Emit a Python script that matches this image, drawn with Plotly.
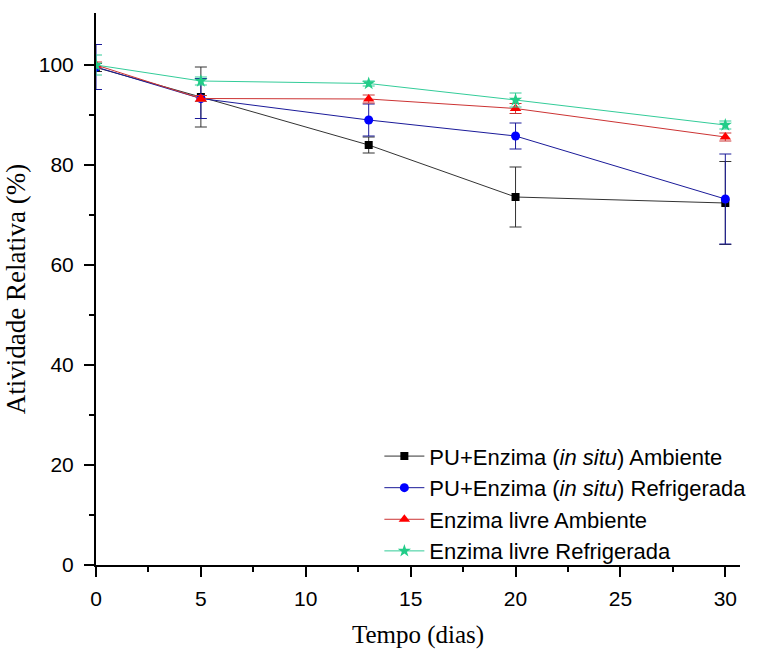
import plotly.graph_objects as go

tempo = [0, 5, 13, 20, 30]

pu_amb = [99.5, 93.6, 84.0, 73.6, 72.4]
pu_amb_err = [0.8, 6.0, 1.6, 6.0, 8.3]

pu_ref = [99.6, 93.3, 89.0, 85.8, 73.2]
pu_ref_err = [4.5, 4.0, 3.2, 2.6, 9.0]

livre_amb = [100.0, 93.3, 93.2, 91.3, 85.6]
livre_amb_err = [0.6, 0.6, 0.8, 1.0, 0.8]

livre_ref = [100.0, 96.8, 96.3, 93.0, 88.0]
livre_ref_err = [2.0, 0.8, 0.5, 1.4, 0.8]

names = [
    "PU+Enzima (<i>in situ</i>) Ambiente",
    "PU+Enzima (<i>in situ</i>) Refrigerada",
    "Enzima livre Ambiente",
    "Enzima livre Refrigerada",
]

series = [
    (pu_amb, pu_amb_err, "#000000", "#333333", "square", 8),
    (pu_ref, pu_ref_err, "#0000ff", "#1a1a99", "circle", 9),
    (livre_amb, livre_amb_err, "#ff0000", "#cc3333", "triangle-up", 10),
    (livre_ref, livre_ref_err, "#22cc88", "#33cc99", "star", 10),
]

fig = go.Figure()
for (vals, errs, mcol, lcol, sym, size), name in zip(series, names):
    fig.add_trace(go.Scatter(
        x=tempo, y=vals, name=name, mode="lines+markers",
        line=dict(color=lcol, width=1),
        marker=dict(symbol=sym, size=size, color=mcol),
        error_y=dict(type="data", array=errs, visible=True, color=lcol, thickness=1, width=6),
    ))

axis_common = dict(
    showline=True, linecolor="black", linewidth=2,
    ticks="outside", ticklen=10, tickwidth=2, tickcolor="black",
    showgrid=False, zeroline=False,
    tickfont=dict(family="Liberation Sans, Arial", size=21, color="black"),
    minor=dict(ticks="outside", ticklen=5, tickwidth=2, tickcolor="black", showgrid=False),
)

fig.update_layout(
    width=759, height=650,
    margin=dict(l=96, r=19, t=13, b=85, autoexpand=False),
    paper_bgcolor="white", plot_bgcolor="white",
    xaxis=dict(range=[0, 30.7], tickvals=[0, 5, 10, 15, 20, 25, 30],
               ticklabelstandoff=4, automargin=False,
               title=dict(text="Tempo (dias)", font=dict(family="Liberation Serif, Times New Roman", size=25, color="black"), standoff=16),
               **axis_common),
    yaxis=dict(range=[0, 110.4], tickvals=[0, 20, 40, 60, 80, 100],
               ticklabelstandoff=6, automargin=False,
               title=dict(text="Atividade Relativa (%)", font=dict(family="Liberation Serif, Times New Roman", size=27, color="black"), standoff=5),
               **axis_common),
    legend=dict(x=0.44, y=0.235, xanchor="left", yanchor="top",
                font=dict(family="Liberation Sans, Arial", size=22, color="black"),
                bgcolor="rgba(0,0,0,0)", tracegroupgap=0, itemwidth=40),
    showlegend=True,
)
fig.update_xaxes(minor=dict(tickvals=[2.5, 7.5, 12.5, 17.5, 22.5, 27.5]))
fig.update_yaxes(minor=dict(tickvals=[10, 30, 50, 70, 90]))

fig.write_html("out.html")
